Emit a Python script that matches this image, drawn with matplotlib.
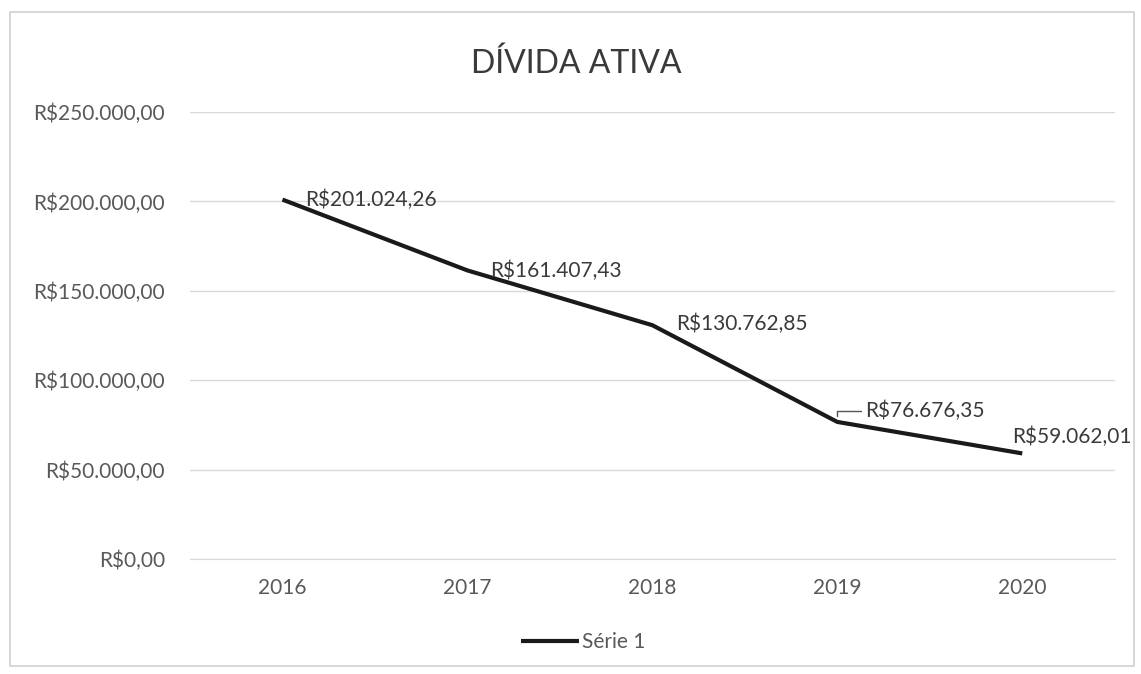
import matplotlib.pyplot as plt
from matplotlib.ticker import FuncFormatter

anos = ['2016', '2017', '2018', '2019', '2020']
valores = [201024.26, 161407.43, 130762.85, 76676.35, 59062.01]
rotulos = ['R$201.024,26', 'R$161.407,43', 'R$130.762,85', 'R$76.676,35', 'R$59.062,01']

plt.rcParams['font.family'] = ['Lato', 'DejaVu Sans']

def moeda(v, pos):
    s = f"{v:,.2f}".replace(',', 'X').replace('.', ',').replace('X', '.')
    return 'R$' + s

fig = plt.figure(figsize=(11.41, 6.74), dpi=100)
# moldura do gráfico
fig.patches.append(plt.Rectangle((0.009, 0.012), 0.985, 0.97, transform=fig.transFigure,
                                  fill=False, edgecolor='#d0d0d0', linewidth=1.2))
ax = fig.add_axes([0.1665, 0.1706, 0.8105, 0.6632])

x = list(range(len(anos)))
ax.plot(x, valores, color='#1a1a1a', linewidth=3, label='Série 1', solid_capstyle='butt')

# rótulos de dados (deslocamento em pontos)
offsets = [(16, 0), (16, 0), (17, 1), (20, 8), (-7, 12)]
for i, (xi, v) in enumerate(zip(x, valores)):
    ax.annotate(rotulos[i], (xi, v), xytext=offsets[i], textcoords='offset points',
                ha='left', va='center', fontsize=15, color='#3a3a3a')
# pequena linha guia do rótulo de 2019
ax.annotate('', (x[3], valores[3]), xytext=(19, 8), textcoords='offset points',
            arrowprops=dict(arrowstyle='-', color='#555555', lw=1, shrinkB=4,
                            connectionstyle='angle,angleA=0,angleB=90,rad=0'))

ax.set_xlim(-0.5, len(anos) - 0.5)
ax.set_ylim(0, 250000)
ax.set_yticks([0, 50000, 100000, 150000, 200000, 250000])
ax.yaxis.set_major_formatter(FuncFormatter(moeda))
ax.set_xticks(x)
ax.set_xticklabels(anos)
ax.tick_params(axis='both', length=0, labelsize=15, labelcolor='#595959')
ax.tick_params(axis='y', pad=18)
ax.tick_params(axis='x', pad=14)
ax.grid(axis='y', color='#d9d9d9', linewidth=1)
ax.set_axisbelow(True)
for s in ['top', 'right', 'left']:
    ax.spines[s].set_visible(False)
ax.spines['bottom'].set_color('#d9d9d9')

fig.text(0.505, 0.905, 'DÍVIDA ATIVA', ha='center', va='center', fontsize=23, color='#3a3a3a')

ax.legend(loc='center', bbox_to_anchor=(0.511, 0.0475), bbox_transform=fig.transFigure,
          frameon=False, fontsize=15, labelcolor='#595959', handlelength=2.8, handletextpad=0.15)

fig.savefig('out.png', dpi=100, facecolor='white')
